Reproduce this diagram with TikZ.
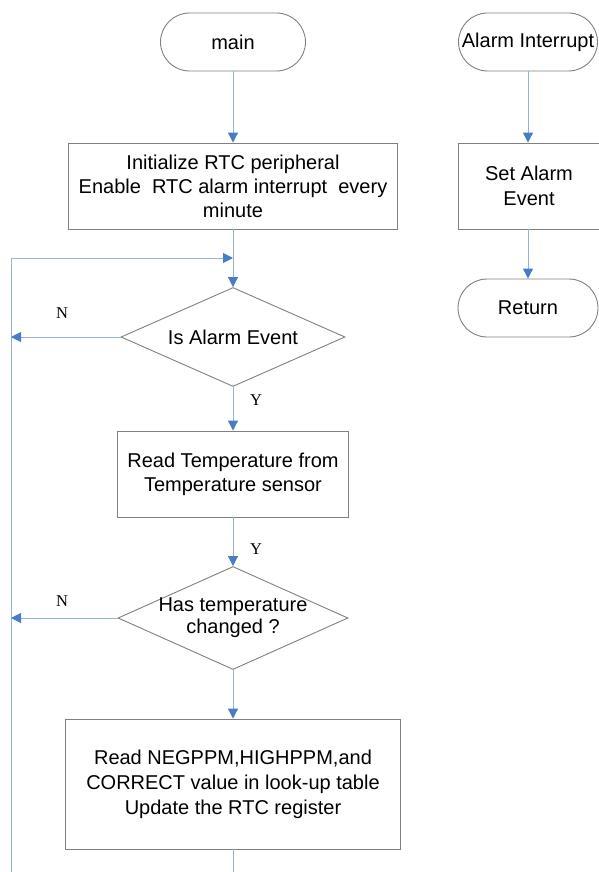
\documentclass[tikz,border=0pt]{standalone}
\usepackage{fontspec}
\setmainfont{Liberation Serif}
\newfontfamily\arialf{Liberation Sans}
\usetikzlibrary{shapes.geometric,arrows.meta}
\definecolor{linec}{HTML}{95B3E0}
\definecolor{tipc}{HTML}{4A7CC6}
\definecolor{boxc}{HTML}{808080}
\begin{document}
\begin{tikzpicture}[x=1pt,y=-1pt,
  txt/.style={font=\arialf\fontsize{20}{24}\selectfont, align=center},
  procbox/.style={draw=boxc, line width=0.9pt, txt, inner sep=0pt},
  term/.style={procbox, rounded corners=29pt, minimum height=58pt},
  dec/.style={draw=boxc, line width=0.9pt, diamond, inner sep=0pt},
  flow/.style={draw=linec, line width=1pt, -{Triangle[length=10pt,width=10pt,color=tipc]}},
  plain/.style={draw=linec, line width=1pt},
  yn/.style={font=\fontsize{16.5}{18}\selectfont}
]
\useasboundingbox (0,0) rectangle (598,872);
% left column
\node[term, minimum width=145pt] (main) at (233,42) {main};
\node[procbox, minimum width=329pt, minimum height=86pt] (init) at (233,186)
  {Initialize RTC peripheral\\Enable\ \ RTC alarm interrupt\ \ every\\minute};
\node[dec, minimum width=224pt, minimum height=99pt,
  label={[txt]center:Is Alarm Event}] (d1) at (233,337) {};
\node[procbox, minimum width=231pt, minimum height=86pt] (rt) at (233,474)
  {Read Temperature from\\Temperature sensor};
\node[dec, minimum width=230pt, minimum height=103pt,
  label={[txt, font=\arialf\fontsize{20}{22}\selectfont]center:Has temperature\\changed ?}] (d2) at (233,618) {};
\node[procbox, minimum width=335pt, minimum height=130pt,
  font=\arialf\fontsize{20}{25}\selectfont] (upd) at (233,784)
  {Read NEGPPM,HIGHPPM,and\\CORRECT value in look-up table\\Update the RTC register};
% right column
\node[term, minimum width=139pt] (ai) at (528,42) {Alarm Interrupt};
\node[procbox, minimum width=142pt, minimum height=86pt,
  font=\arialf\fontsize{20}{25}\selectfont] (sae) at (529,186) {Set Alarm\\Event};
\node[term, minimum width=140pt] (ret) at (528,308) {Return};
% helper coordinates
\coordinate (lbot) at (11,872);
\coordinate (ltop) at (11,258);
\coordinate (join) at (233,258);
\coordinate (cbot) at (233,872);
% connectors
\draw[flow] (main.south) -- (init.north);
\draw[flow] (init.south) -- (d1.north);
\draw[plain] (lbot) -- (ltop);
\draw[flow] (ltop) -- (join);
\draw[flow] (d1.west) -- (d1.west -| ltop);
\draw[flow] (d1.south) -- (rt.north);
\draw[flow] (rt.south) -- (d2.north);
\draw[flow] (d2.west) -- (d2.west -| ltop);
\draw[flow] (d2.south) -- (upd.north);
\draw[plain] (upd.south) -- (cbot);
\draw[flow] (ai.south) -- (ai.south |- sae.north);
\draw[flow] (ai.south |- sae.south) -- (ai.south |- ret.north);
% labels
\node[yn] (n1) at (62,313) {N};
\node[yn] (y1) at (256,400) {Y};
\node[yn] (y2) at (256,549) {Y};
\node[yn] (n2) at (62,601) {N};
\end{tikzpicture}
\end{document}
